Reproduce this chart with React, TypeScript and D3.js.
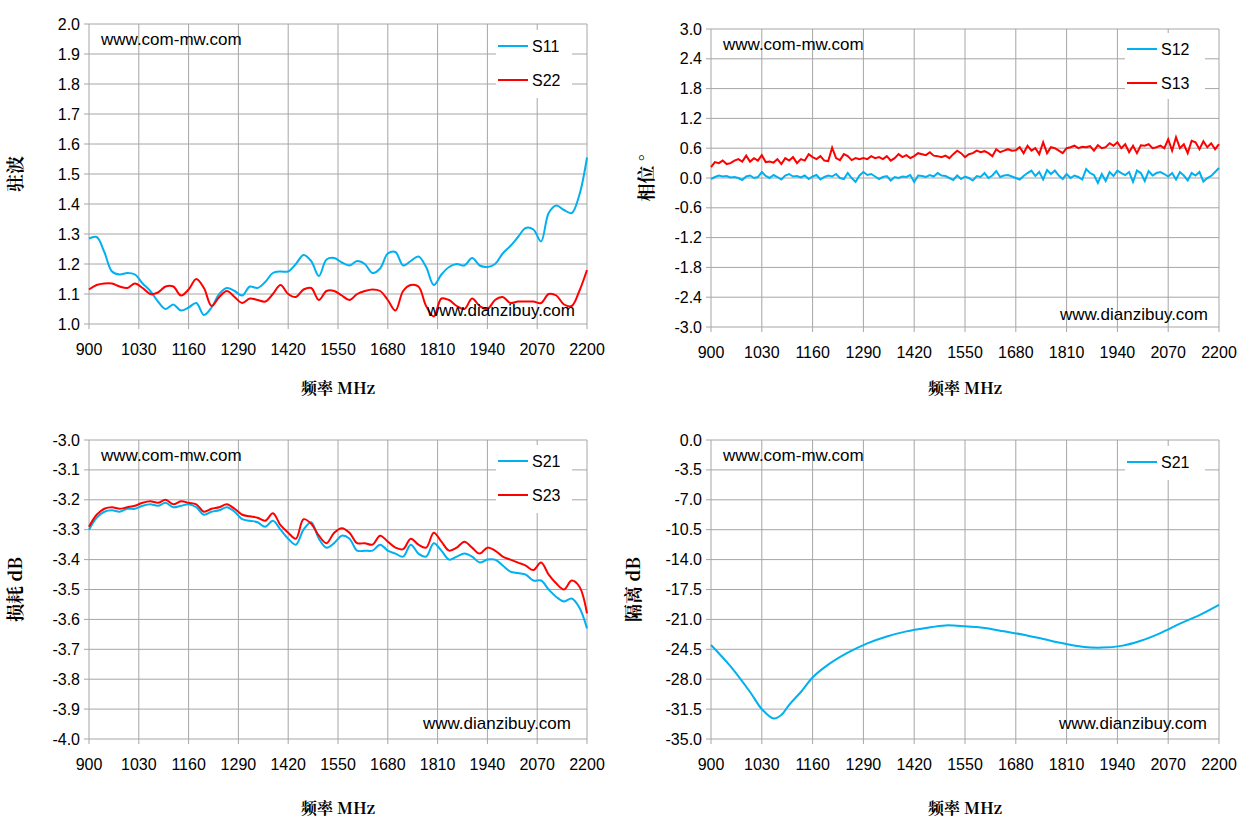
import React from "react";
import * as d3 from "d3";

const freqTicks = [900, 1030, 1160, 1290, 1420, 1550, 1680, 1810, 1940, 2070, 2200];

const s11 = [1.285,1.29,1.24,1.175,1.165,1.17,1.165,1.135,1.11,1.075,1.05,1.065,1.045,1.055,1.07,1.03,1.055,1.1,1.12,1.11,1.095,1.125,1.12,1.14,1.17,1.175,1.175,1.2,1.23,1.21,1.16,1.215,1.22,1.205,1.195,1.21,1.2,1.17,1.185,1.235,1.24,1.195,1.21,1.225,1.19,1.13,1.165,1.19,1.2,1.195,1.22,1.195,1.19,1.2,1.235,1.26,1.29,1.32,1.315,1.275,1.37,1.395,1.38,1.37,1.43,1.555];
const s22 = [1.115,1.13,1.135,1.135,1.125,1.12,1.135,1.12,1.1,1.105,1.125,1.125,1.095,1.115,1.15,1.12,1.06,1.09,1.11,1.09,1.07,1.085,1.08,1.075,1.1,1.13,1.1,1.09,1.115,1.12,1.08,1.11,1.11,1.095,1.08,1.1,1.11,1.115,1.11,1.08,1.045,1.11,1.13,1.125,1.06,1.025,1.085,1.08,1.06,1.05,1.085,1.06,1.05,1.08,1.09,1.07,1.075,1.075,1.075,1.07,1.1,1.095,1.065,1.06,1.11,1.18];

const s12 = [-0.02,0.02,0.05,0.03,0.04,0.01,0.02,0.0,-0.04,0.03,0.05,0.0,0.02,0.12,0.04,0.0,0.06,0.02,-0.03,0.05,0.08,0.03,0.04,0.01,0.05,-0.02,0.03,0.06,-0.03,0.02,0.05,0.03,0.08,0.0,-0.02,0.1,0.0,-0.08,0.05,0.12,0.06,0.08,0.03,-0.02,0.02,0.04,-0.05,0.02,0.0,0.03,0.02,0.06,-0.08,0.05,0.04,0.02,0.06,0.03,0.1,0.05,0.04,0.0,-0.04,0.05,-0.02,0.03,0.0,-0.05,0.04,0.02,0.1,0.0,0.05,0.14,0.02,0.05,0.06,0.03,0.0,-0.03,0.04,0.1,0.15,0.04,0.12,-0.03,0.16,0.08,0.15,0.05,-0.02,0.08,0.0,0.05,0.02,-0.03,0.18,0.1,0.06,-0.1,0.08,-0.06,0.12,0.04,0.15,0.1,0.06,0.12,-0.08,0.15,0.1,-0.06,0.14,0.05,0.1,0.12,0.08,0.03,0.1,-0.03,0.12,0.05,-0.05,0.1,0.05,0.12,-0.07,0.0,0.04,0.12,0.2,-0.04,0.05,0.08,0.03,0.12,-0.06,-0.02];
const s13 = [0.22,0.32,0.3,0.35,0.28,0.3,0.35,0.38,0.33,0.45,0.33,0.4,0.35,0.46,0.32,0.33,0.31,0.38,0.28,0.4,0.35,0.42,0.3,0.38,0.35,0.48,0.42,0.38,0.44,0.35,0.34,0.61,0.4,0.36,0.48,0.44,0.36,0.4,0.38,0.4,0.38,0.44,0.4,0.42,0.38,0.44,0.35,0.4,0.48,0.42,0.46,0.4,0.44,0.5,0.48,0.46,0.52,0.45,0.44,0.42,0.45,0.4,0.48,0.55,0.5,0.42,0.48,0.5,0.55,0.52,0.54,0.5,0.44,0.58,0.52,0.55,0.58,0.55,0.56,0.62,0.5,0.65,0.55,0.6,0.48,0.72,0.5,0.62,0.6,0.55,0.5,0.6,0.62,0.65,0.6,0.63,0.62,0.64,0.55,0.66,0.6,0.62,0.7,0.65,0.72,0.6,0.68,0.52,0.65,0.5,0.66,0.65,0.68,0.6,0.62,0.65,0.6,0.78,0.55,0.82,0.6,0.68,0.5,0.75,0.72,0.58,0.74,0.62,0.7,0.58,0.68,0.7,0.6,0.58];

const s21 = [-3.3,-3.26,-3.24,-3.235,-3.24,-3.23,-3.23,-3.22,-3.215,-3.22,-3.21,-3.225,-3.22,-3.215,-3.225,-3.25,-3.24,-3.235,-3.225,-3.24,-3.265,-3.27,-3.275,-3.29,-3.27,-3.3,-3.33,-3.35,-3.3,-3.275,-3.33,-3.36,-3.345,-3.32,-3.33,-3.37,-3.37,-3.37,-3.35,-3.37,-3.38,-3.39,-3.35,-3.38,-3.39,-3.345,-3.37,-3.4,-3.39,-3.38,-3.39,-3.41,-3.4,-3.4,-3.42,-3.44,-3.445,-3.45,-3.47,-3.47,-3.5,-3.525,-3.54,-3.53,-3.56,-3.63];
const s23 = [-3.29,-3.25,-3.23,-3.225,-3.23,-3.225,-3.22,-3.21,-3.205,-3.21,-3.2,-3.215,-3.205,-3.21,-3.215,-3.24,-3.23,-3.225,-3.215,-3.23,-3.25,-3.255,-3.26,-3.27,-3.245,-3.285,-3.31,-3.33,-3.265,-3.28,-3.32,-3.345,-3.31,-3.295,-3.31,-3.345,-3.345,-3.35,-3.32,-3.34,-3.36,-3.365,-3.33,-3.35,-3.36,-3.31,-3.34,-3.37,-3.36,-3.34,-3.36,-3.38,-3.36,-3.37,-3.39,-3.4,-3.41,-3.42,-3.435,-3.41,-3.45,-3.48,-3.5,-3.47,-3.49,-3.58];

const isoFreq = [900,950,1000,1030,1060,1080,1100,1130,1160,1200,1250,1300,1350,1400,1450,1500,1550,1600,1650,1700,1750,1800,1850,1900,1950,2000,2050,2100,2150,2200];
const isoS21 = [-24,-26.5,-29.5,-31.5,-32.6,-32.2,-31,-29.5,-27.8,-26.3,-24.9,-23.8,-23,-22.4,-22,-21.7,-21.8,-22,-22.4,-22.8,-23.3,-23.8,-24.2,-24.3,-24.1,-23.5,-22.6,-21.5,-20.5,-19.3];

const BLUE = "#00b0f0";
const RED = "#ff0000";
const FONT = "'Liberation Sans', Arial, sans-serif";
const SERIF = "'Noto Serif CJK SC', 'Noto Sans CJK SC', serif";

type Series = { name: string; color: string; xs: number[]; ys: number[] };

function Chart(p: {
  x0: number; x1: number; y0: number; y1: number;
  yTicks: number[]; yFmt: (v: number) => string; yTitle: string;
  series: Series[]; curve: any; legend: { x: number; y: number; w: number; h: number };
  xTitleY: number; yTitleX: number;
}) {
  const x = d3.scaleLinear().domain([900, 2200]).range([p.x0, p.x1]);
  const yMin = d3.min(p.yTicks)!, yMax = d3.max(p.yTicks)!;
  const y = d3.scaleLinear().domain([yMin, yMax]).range([p.y1, p.y0]);
  const grid = "#a6a6a6";
  return (
    <g>
      {p.yTicks.map((t) => (
        <g key={"y" + t}>
          <line x1={p.x0 - 5} x2={p.x1} y1={y(t)} y2={y(t)} stroke={grid} />
          <text x={p.x0 - 9} y={y(t) + 5.5} textAnchor="end" fontSize={16} fontFamily={FONT}>{p.yFmt(t)}</text>
        </g>
      ))}
      {freqTicks.map((t) => (
        <g key={"x" + t}>
          <line x1={x(t)} x2={x(t)} y1={p.y0} y2={p.y1 + 5} stroke={grid} />
          <text x={x(t)} y={p.y1 + 31} textAnchor="middle" fontSize={16} fontFamily={FONT}>{t}</text>
        </g>
      ))}
      <rect x={p.legend.x} y={p.legend.y} width={p.legend.w} height={p.legend.h} fill="white" />
      {p.series.map((s) => {
        const n = Math.min(s.xs.length, s.ys.length);
        const pts = d3.range(n).filter((i) => s.xs[i] <= 2200).map((i) => [x(s.xs[i]), y(s.ys[i])] as [number, number]);
        const path = d3.line().curve(p.curve)(pts)!;
        return <path key={s.name} d={path} fill="none" stroke={s.color} strokeWidth={2} />;
      })}
      {p.series.map((s, i) => (
        <g key={"l" + s.name}>
          <line x1={p.legend.x + 2} x2={p.legend.x + 32} y1={p.legend.y + 16 + i * 34} y2={p.legend.y + 16 + i * 34} stroke={s.color} strokeWidth={2} />
          <text x={p.legend.x + 36} y={p.legend.y + 22 + i * 34} fontSize={16} fontFamily={FONT}>{s.name}</text>
        </g>
      ))}
      <text x={p.x0 + 12} y={p.y0 + 21} fontSize={17} fontFamily={FONT}>www.com-mw.com</text>
      <text transform={`translate(${p.yTitleX},${(p.y0 + p.y1) / 2}) rotate(-90)`} textAnchor="middle" fontSize={18} fontWeight="bold" fontFamily={SERIF}>{p.yTitle}</text>
      <text x={(p.x0 + p.x1) / 2} y={p.xTitleY} textAnchor="middle" fontSize={16} fontWeight="bold" fontFamily={SERIF}>频率 MHz</text>
    </g>
  );
}

const f20 = s11.map((_, i) => 900 + i * 20);
const f10 = d3.range(0, 140).map((i) => 900 + i * 10);

export default function App() {
  return (
    <svg width={1255} height={831} style={{ position: "absolute", left: 0, top: 0, background: "white" }}>
      <Chart x0={89} x1={587} y0={24} y1={324} yTicks={d3.range(0, 11).map((i) => 1 + i * 0.1)} yFmt={(v) => v.toFixed(1)}
        yTitle="驻波" series={[{ name: "S11", color: BLUE, xs: f20, ys: s11 }, { name: "S22", color: RED, xs: f20, ys: s22 }]}
        curve={d3.curveCatmullRom} legend={{ x: 496, y: 30, w: 76, h: 68 }} xTitleY={394} yTitleX={22} />
      <text x={575} y={316} textAnchor="end" fontSize={17} fontFamily={FONT}>www.dianzibuy.com</text>

      <Chart x0={711} x1={1219} y0={29} y1={327} yTicks={d3.range(0, 11).map((i) => -3 + i * 0.6)} yFmt={(v) => (Math.abs(v) < 1e-9 ? "0.0" : v.toFixed(1))}
        yTitle="相位 °" series={[{ name: "S12", color: BLUE, xs: f10, ys: s12 }, { name: "S13", color: RED, xs: f10, ys: s13 }]}
        curve={d3.curveLinear} legend={{ x: 1125, y: 33, w: 80, h: 66 }} xTitleY={394} yTitleX={653} />
      <text x={1208} y={320} textAnchor="end" fontSize={17} fontFamily={FONT}>www.dianzibuy.com</text>

      <Chart x0={89} x1={587} y0={440} y1={739} yTicks={d3.range(0, 11).map((i) => -4 + i * 0.1)} yFmt={(v) => v.toFixed(1)}
        yTitle="损耗 dB" series={[{ name: "S21", color: BLUE, xs: f20, ys: s21 }, { name: "S23", color: RED, xs: f20, ys: s23 }]}
        curve={d3.curveCatmullRom} legend={{ x: 496, y: 445, w: 76, h: 68 }} xTitleY={814} yTitleX={22} />
      <text x={571} y={729} textAnchor="end" fontSize={17} fontFamily={FONT}>www.dianzibuy.com</text>

      <Chart x0={711} x1={1219} y0={440} y1={739} yTicks={d3.range(0, 11).map((i) => -35 + i * 3.5)} yFmt={(v) => (Math.abs(v) < 1e-9 ? "0.0" : v.toFixed(1))}
        yTitle="隔离 dB" series={[{ name: "S21", color: BLUE, xs: isoFreq, ys: isoS21 }]}
        curve={d3.curveCatmullRom} legend={{ x: 1125, y: 446, w: 80, h: 34 }} xTitleY={814} yTitleX={640} />
      <text x={1207} y={729} textAnchor="end" fontSize={17} fontFamily={FONT}>www.dianzibuy.com</text>
    </svg>
  );
}
